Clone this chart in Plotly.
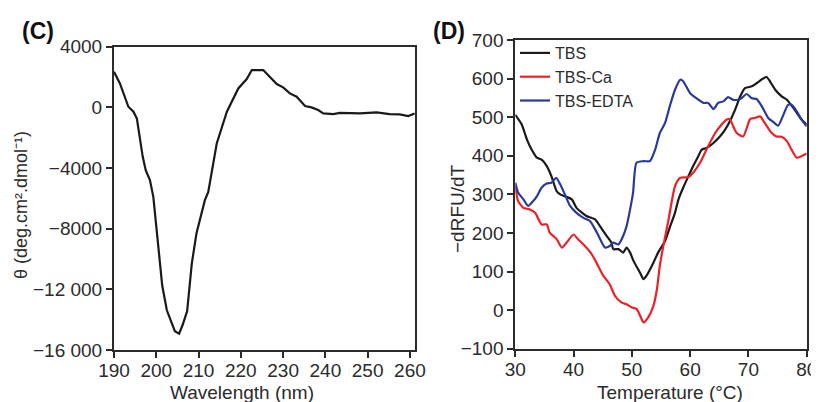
import plotly.graph_objects as go

# ─── Data ──────────────────────────────────────────────────────────────────────

# (C) CD spectrum
cd_wavelength = [190.0, 191.4, 193.4, 194.6, 195.4, 196.1, 196.8, 197.5, 198.5, 199.3,
                 200.1, 201.4, 202.5, 204.4, 205.4, 206.2, 207.3, 208.4, 209.5, 211.5,
                 212.3, 214.3, 216.7, 219.4, 221.4, 222.6, 225.3, 226.9, 228.5, 230.0,
                 231.6, 233.2, 235.2, 236.7, 238.3, 239.5, 241.9, 243.4, 248.2, 252.1,
                 255.2, 257.6, 259.6, 261.1]
cd_theta = [2350, 1580, 40, -290, -730, -2160, -3260, -4140, -4800, -5900,
            -8320, -11730, -13380, -14760, -14920, -14370, -13440, -10300, -8320, -6120,
            -5570, -2380, -290, 1250, 1870, 2460, 2460, 2020, 1540, 1320,
            920, 700, 90, 0, -180, -400, -440, -360, -400, -330,
            -440, -460, -570, -400]

# (D) melt curves, -dRFU/dT
tbs_temp = [30.0, 31.1, 32.0, 32.8, 33.7, 34.5, 35.4, 36.2, 37.1, 37.7, 38.5, 39.7,
            40.5, 42.2, 43.7, 44.5, 45.7, 46.5, 46.8, 47.7, 48.5, 49.1, 49.7, 50.3,
            51.4, 52.0, 52.5, 53.7, 54.5, 55.7, 56.5, 57.4, 58.0, 58.8, 59.7, 60.5,
            61.4, 62.0, 62.8, 64.0, 65.1, 66.0, 66.8, 67.7, 68.6, 69.4, 70.6, 71.4,
            72.6, 73.1, 73.7, 74.6, 75.7, 76.6, 77.7, 78.9, 79.7, 80.0]
tbs_val = [506, 481, 442, 416, 395, 390, 373, 347, 308, 300, 295, 287,
           265, 244, 235, 218, 192, 175, 158, 158, 149, 162, 149, 127,
           97, 80, 89, 123, 149, 179, 214, 252, 287, 317, 347, 373,
           399, 416, 420, 433, 450, 468, 489, 519, 554, 575, 580, 588,
           601, 604, 593, 571, 554, 545, 524, 498, 485, 481]

ca_temp = [30.0, 30.5, 31.4, 32.5, 33.4, 34.5, 35.4, 35.9, 37.1, 38.0, 38.8, 40.0,
           40.8, 41.7, 43.1, 44.2, 45.1, 46.2, 47.1, 48.2, 49.1, 50.0, 50.8, 51.4,
           52.0, 52.8, 53.7, 54.3, 54.8, 55.4, 56.3, 57.4, 58.3, 59.7, 60.5, 61.7,
           62.8, 64.3, 65.4, 66.3, 66.8, 67.4, 68.0, 69.1, 70.3, 71.1, 72.0, 72.8,
           74.0, 74.8, 75.7, 76.6, 77.4, 78.3, 79.1, 80.0]
ca_val = [320, 282, 265, 261, 252, 222, 222, 201, 184, 162, 175, 196,
          183, 170, 145, 115, 89, 67, 37, 20, 15, 7, 3, -14,
          -32, -19, 11, 54, 115, 166, 235, 321, 343, 345, 356, 382,
          416, 459, 481, 494, 495, 476, 459, 450, 495, 498, 502, 485,
          459, 450, 449, 438, 416, 395, 399, 406]

edta_temp = [30.0, 30.5, 31.4, 32.2, 32.8, 33.7, 34.5, 35.4, 36.2, 37.0, 37.7, 38.5,
             39.4, 40.5, 41.7, 42.8, 44.0, 45.4, 46.2, 46.8, 47.7, 48.5, 49.1, 49.7,
             50.2, 50.8, 52.0, 53.1, 54.0, 54.8, 55.7, 56.5, 57.4, 58.3, 58.8, 60.0,
             61.1, 62.3, 63.1, 64.0, 64.8, 65.7, 66.5, 67.4, 68.6, 69.7, 70.6, 71.4,
             72.3, 73.4, 74.3, 75.1, 76.0, 76.8, 77.4, 78.3, 79.1, 80.0]
edta_val = [330, 304, 287, 270, 278, 295, 317, 328, 330, 343, 326, 300,
            270, 252, 239, 231, 201, 162, 166, 175, 170, 192, 218, 261,
            304, 382, 386, 386, 416, 459, 485, 528, 571, 597, 593, 562,
            549, 537, 537, 521, 537, 541, 552, 545, 547, 560, 549, 547,
            528, 498, 487, 478, 506, 532, 532, 515, 494, 476]

cd_yticks = [4000, 0, -4000, -8000, -12000, -16000]
cd_yticklabels = ["4000", "0", "\u22124000", "\u22128000", "\u221212 000", "\u221216 000"]
melt_yticks = [700, 600, 500, 400, 300, 200, 100, 0, -100]
melt_yticklabels = ["700", "600", "500", "400", "300", "200", "100", "0", "\u2212100"]

# ─── Styling ───────────────────────────────────────────────────────────────────

# the page body has an 8px margin, so the figure starts at (8, 8) in the window
OFF = 8
W, H = 819 - OFF, 402 - OFF
INK = "#2b2b2b"
FONT = "Arial, 'Liberation Sans', Helvetica, sans-serif"


def px_x(p):
    return (p - OFF) / W


def px_y(p):
    return 1 - (p - OFF) / H


_AXIS = dict(
    showgrid=False, zeroline=False, showline=True, mirror=True, automargin=False,
    linecolor=INK, linewidth=2, ticks="outside", ticklen=6, tickwidth=2,
    tickcolor=INK, tickfont=dict(size=19, color=INK, family=FONT),
)

fig = go.Figure()

fig.add_trace(go.Scatter(
    x=cd_wavelength, y=cd_theta, mode="lines", showlegend=False,
    line=dict(color="#1a1a1a", width=2.2), xaxis="x", yaxis="y",
))

for temp, val, name, color in [
    (tbs_temp, tbs_val, "TBS", "#1a1a1a"),
    (ca_temp, ca_val, "TBS-Ca", "#ee2028"),
    (edta_temp, edta_val, "TBS-EDTA", "#2a3a9c"),
]:
    fig.add_trace(go.Scatter(
        x=temp, y=val, mode="lines", name=name,
        line=dict(color=color, width=2.2, shape="spline", smoothing=0.6),
        xaxis="x2", yaxis="y2",
    ))

fig.update_layout(
    width=W, height=H,
    margin=dict(l=0, r=0, t=0, b=0, autoexpand=False),
    paper_bgcolor="white", plot_bgcolor="white",
    font=dict(family=FONT, color=INK, size=19),
    xaxis=dict(**_AXIS, domain=[px_x(114), px_x(415)], range=[190, 261.2],
               tickvals=[190, 200, 210, 220, 230, 240, 250, 260], anchor="y",
               ticklabelstandoff=-4),
    yaxis=dict(**_AXIS, domain=[px_y(350), px_y(46.7)], range=[-16000, 4000],
               tickvals=cd_yticks, ticktext=cd_yticklabels, anchor="x"),
    xaxis2=dict(**_AXIS, domain=[px_x(515.3), px_x(806.7)], range=[30, 80],
                tickvals=[30, 40, 50, 60, 70, 80], anchor="y2",
                ticklabelstandoff=-4),
    yaxis2=dict(**_AXIS, domain=[px_y(348.7), px_y(40)], range=[-100, 700],
                tickvals=melt_yticks, ticktext=melt_yticklabels, anchor="x2"),
    legend=dict(
        x=px_x(515), y=px_y(36), xanchor="left", yanchor="top",
        bgcolor="rgba(0,0,0,0)", font=dict(size=16, color=INK, family=FONT),
        tracegroupgap=0, itemwidth=30,
    ),
)

# Titles and panel labels
for text, x, y, angle, size, bold in [
    ("Wavelength (nm)", 242, 392, 0, 19, False),
    ("Temperature (\u00b0C)", 670, 392, 0, 19, False),
    ("\u03b8 (deg.cm\u00b2.dmol\u207b\u00b9)", 21, 205, -90, 18, False),
    ("\u2212dRFU/dT", 457, 209, -90, 19, False),
    ("(C)", 38, 31, 0, 23, True),
    ("(D)", 449, 31, 0, 23, True),
]:
    fig.add_annotation(
        text=f"<b>{text}</b>" if bold else text,
        x=px_x(x), y=px_y(y), xref="paper", yref="paper",
        xanchor="center", yanchor="middle", textangle=angle,
        showarrow=False, font=dict(size=size, color="#111" if bold else INK, family=FONT),
    )

fig.write_html("out.html")
